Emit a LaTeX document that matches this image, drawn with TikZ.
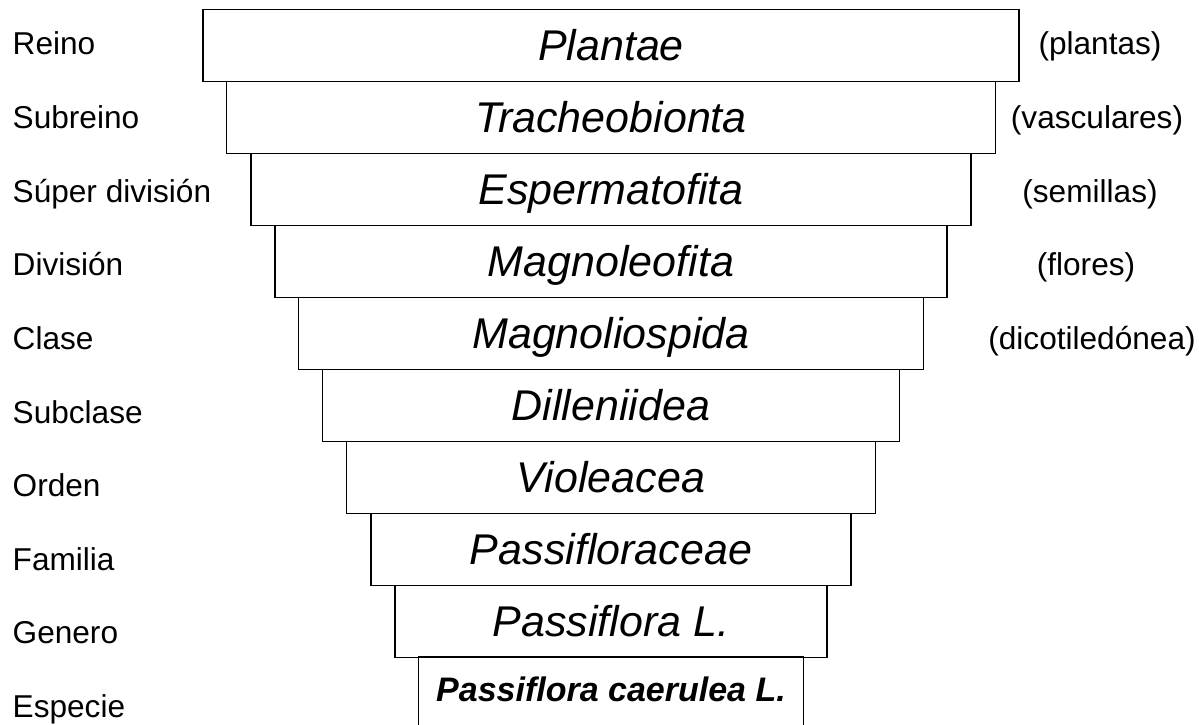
\documentclass[tikz,border=0pt]{standalone}
\usepackage{fontspec}
\setmainfont{Liberation Sans}
\begin{document}
\begin{tikzpicture}[x=1pt,y=-1pt,line width=1.4pt,
  tier/.style={draw, minimum height=72pt, inner sep=0pt, anchor=north,
    font=\fontsize{43}{43}\selectfont\itshape, text height=30pt, text depth=0pt},
  rank/.style={anchor=base west, inner sep=0pt, font=\fontsize{31.6}{31.6}\selectfont},
  note/.style={anchor=base, inner sep=0pt, font=\fontsize{31.6}{31.6}\selectfont}]
\useasboundingbox (0,0) rectangle (1199,725);
% tiers
\node[tier, minimum width=816pt] (b1) at (611,9)   {Plantae};
\node[tier, minimum width=769pt] (b2) at (611,81)  {Tracheobionta};
\node[tier, minimum width=720pt] (b3) at (611,153) {Espermatofita};
\node[tier, minimum width=672pt] (b4) at (611,225) {Magnoleofita};
\node[tier, minimum width=625pt] (b5) at (611,297) {Magnoliospida};
\node[tier, minimum width=577pt] (b6) at (611,369) {Dilleniidea};
\node[tier, minimum width=529pt] (b7) at (611,441) {Violeacea};
\node[tier, minimum width=480pt] (b8) at (611,513) {Passifloraceae};
\node[tier, minimum width=432pt] (b9) at (611,585) {Passiflora L.};
\node[tier, draw=none, minimum width=384pt, minimum height=69pt,
  font=\fontsize{34}{34}\selectfont\bfseries\itshape, text height=24pt, text depth=6pt]
  (b10) at (611,657) {Passiflora caerulea L.};
\draw (b10.south west) -- (b10.north west) -- (b10.north east) -- (b10.south east);
% rank labels
\node[rank] (r1)  at (12,55)    {Reino};
\node[rank] (r2)  at (12,128.6) {Subreino};
\node[rank] (r3)  at (12,202.2) {Súper división};
\node[rank] (r4)  at (12,275.8) {División};
\node[rank] (r5)  at (12,349.4) {Clase};
\node[rank] (r6)  at (12,423)   {Subclase};
\node[rank] (r7)  at (12,496.6) {Orden};
\node[rank] (r8)  at (12,570.2) {Familia};
\node[rank] (r9)  at (12,643.8) {Genero};
\node[rank] (r10) at (12,717.4) {Especie};
% notes
\node[note] (n1) at (1100,55)    {(plantas)};
\node[note] (n2) at (1097,128.6) {(vasculares)};
\node[note] (n3) at (1090,202.2) {(semillas)};
\node[note] (n4) at (1086,275.8) {(flores)};
\node[note] (n5) at (1092,349.4) {(dicotiledónea)};
\end{tikzpicture}
\end{document}
